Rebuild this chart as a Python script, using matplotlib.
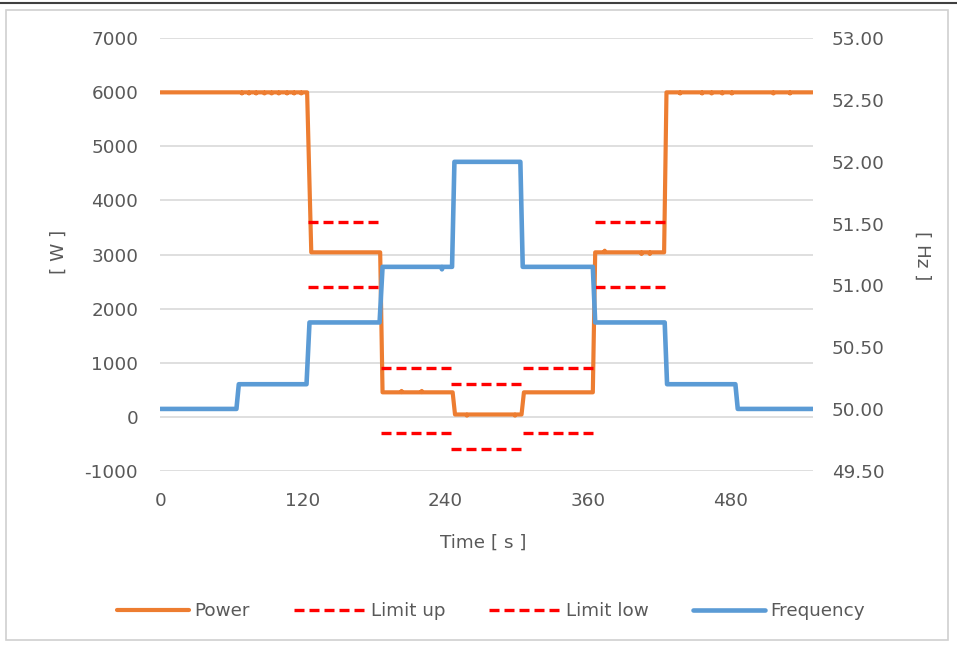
import numpy as np
import matplotlib
matplotlib.use("Agg")
import matplotlib.pyplot as plt
from matplotlib.lines import Line2D
from matplotlib.patches import Rectangle
from matplotlib.ticker import FormatStrFormatter

# ---------------- data ----------------
# Power [W]: breakpoints (time s, value W), incl. small measurement blips
power_time = [0, 64.5,
              68, 68.6, 69.2, 74, 74.6, 75.2, 80, 80.6, 81.2, 87, 87.6, 88.2,
              93, 93.6, 94.2, 99, 99.6, 100.2, 106, 106.6, 107.2, 112, 112.6, 113.2,
              118, 118.6, 119.2,
              123.5, 127, 185, 187,
              202.5, 203, 203.5, 219.5, 220, 220.5,
              246, 248, 257.5, 258, 258.5, 298, 298.5, 299, 304, 306, 364, 366,
              373.5, 374, 374.5, 404.5, 405, 405.5, 411.5, 412, 412.5, 424, 426,
              437, 437.5, 438, 455.5, 456, 456.5, 463.5, 464, 464.5, 472.5, 473, 473.5,
              480.5, 481, 481.5, 515.5, 516, 516.5, 529.5, 530, 530.5, 549]
power_value = [6000, 6000,
               6000, 5980, 6000, 6000, 5980, 6000, 6000, 5980, 6000, 6000, 5980, 6000,
               6000, 5980, 6000, 6000, 5980, 6000, 6000, 5980, 6000, 6000, 5980, 6000,
               6000, 5980, 6000,
               6000, 3040, 3040, 450,
               450, 475, 450, 450, 475, 450,
               450, 40, 40, 20, 40, 40, 20, 40, 40, 450, 450, 3040,
               3040, 3070, 3040, 3040, 3010, 3040, 3040, 3010, 3040, 3040, 6000,
               6000, 5980, 6000, 6000, 5980, 6000, 6000, 5980, 6000, 6000, 5980, 6000,
               6000, 5980, 6000, 6000, 5980, 6000, 6000, 5980, 6000, 6000]

# Frequency [Hz]
freq_time = [0, 64, 66, 123, 125.5, 184.5, 187, 236.5, 237, 237.5, 245.5, 247.5,
             303, 305, 364, 366, 424.5, 426.5, 484, 486, 549]
freq_value = [50.00, 50.00, 50.20, 50.20, 50.70, 50.70, 51.15, 51.15, 51.13, 51.15,
              51.15, 52.00, 52.00, 51.15, 51.15, 50.70, 50.70, 50.20, 50.20, 50.00, 50.00]

# Limits [W]: segments (start s, end s)
limit_start = [124.3, 185.5, 244.5, 305.0, 366.0]
limit_end = [186.4, 245.3, 306.0, 365.0, 426.0]
limit_up = [3600, 900, 600, 900, 3600]
limit_low = [2400, -300, -600, -300, 2400]

x_ticks = [0, 120, 240, 360, 480]

# ---------------- style ----------------
ORANGE = "#ED7D31"
BLUE = "#5B9BD5"
RED = "#FF0000"
TXT = "#595959"
GRID = "#D9D9D9"
plt.rcParams["font.family"] = ["DejaVu Sans"]
plt.rcParams["axes.unicode_minus"] = False
FS = 13.2

W, H = 957, 646
fig = plt.figure(figsize=(W / 100, H / 100), dpi=100)
fig.patch.set_facecolor("white")

# outer frame
fig.add_artist(Line2D([0, 1], [1 - 2.5 / H, 1 - 2.5 / H], color="#404040", lw=1.5,
                      transform=fig.transFigure))
fig.add_artist(Rectangle((6 / W, 6 / H), (948 - 6) / W, (H - 10 - 6) / H,
                         transform=fig.transFigure, fill=False, ec="#D0D0D0", lw=1.2))

L, R, T, B = 160.4, 812.6, 38.3, 470.7
ax = fig.add_axes([L / W, 1 - B / H, (R - L) / W, (B - T) / H])
ax2 = ax.twinx()

# power
ax.plot(power_time, power_value, color=ORANGE, lw=3.0, solid_joinstyle="round",
        solid_capstyle="round", label="Power", zorder=3)
# limits
for i, (s, e, u) in enumerate(zip(limit_start, limit_end, limit_up)):
    ax.plot([s, e], [u, u], color=RED, lw=2.4, dashes=(3, 1.5), dash_capstyle="butt",
            label="Limit up" if i == 0 else None, zorder=4)
for i, (s, e, lo) in enumerate(zip(limit_start, limit_end, limit_low)):
    ax.plot([s, e], [lo, lo], color=RED, lw=2.4, dashes=(3, 1.5), dash_capstyle="butt",
            label="Limit low" if i == 0 else None, zorder=4)
# frequency
ax2.plot(freq_time, freq_value, color=BLUE, lw=3.3, solid_joinstyle="round",
         solid_capstyle="round", label="Frequency", zorder=3)

ax.set_xlim(0, 549)
ax.set_ylim(-1000, 7000)
ax2.set_ylim(49.5, 53.0)
ax.set_xticks(x_ticks)
ax.set_yticks(np.arange(-1000, 7001, 1000))
ax2.set_yticks(np.arange(49.5, 53.01, 0.5))
ax2.yaxis.set_major_formatter(FormatStrFormatter("%.2f"))

ax.yaxis.grid(True, color=GRID, lw=1.2)
ax.set_axisbelow(True)
for a in (ax, ax2):
    for sp in a.spines.values():
        sp.set_visible(False)
ax.tick_params(axis="both", length=0, labelsize=FS, labelcolor=TXT)
ax.tick_params(axis="y", pad=16)
ax.tick_params(axis="x", pad=15)
ax2.tick_params(axis="y", length=0, labelsize=FS, labelcolor=TXT, pad=14)

fig.text(483 / W, 1 - 543 / H, "Time [ s ]", ha="center", va="center", fontsize=FS, color=TXT)
fig.text(59 / W, 1 - 252 / H, "[ W ]", ha="center", va="center", rotation=90, fontsize=FS, color=TXT)
fig.text(922 / W, 1 - 256 / H, "[ Hz ]", ha="center", va="center", rotation=270, fontsize=FS, color=TXT)

h1, l1 = ax.get_legend_handles_labels()
h2, l2 = ax2.get_legend_handles_labels()
leg = fig.legend(h1 + h2, l1 + l2, loc="center", bbox_to_anchor=(491 / W, 1 - 611 / H),
                 ncol=4, frameon=False, fontsize=FS, handlelength=3.9, handletextpad=0.3,
                 columnspacing=2.4, labelcolor=TXT)

fig.savefig("out.png", dpi=100, facecolor="white")
